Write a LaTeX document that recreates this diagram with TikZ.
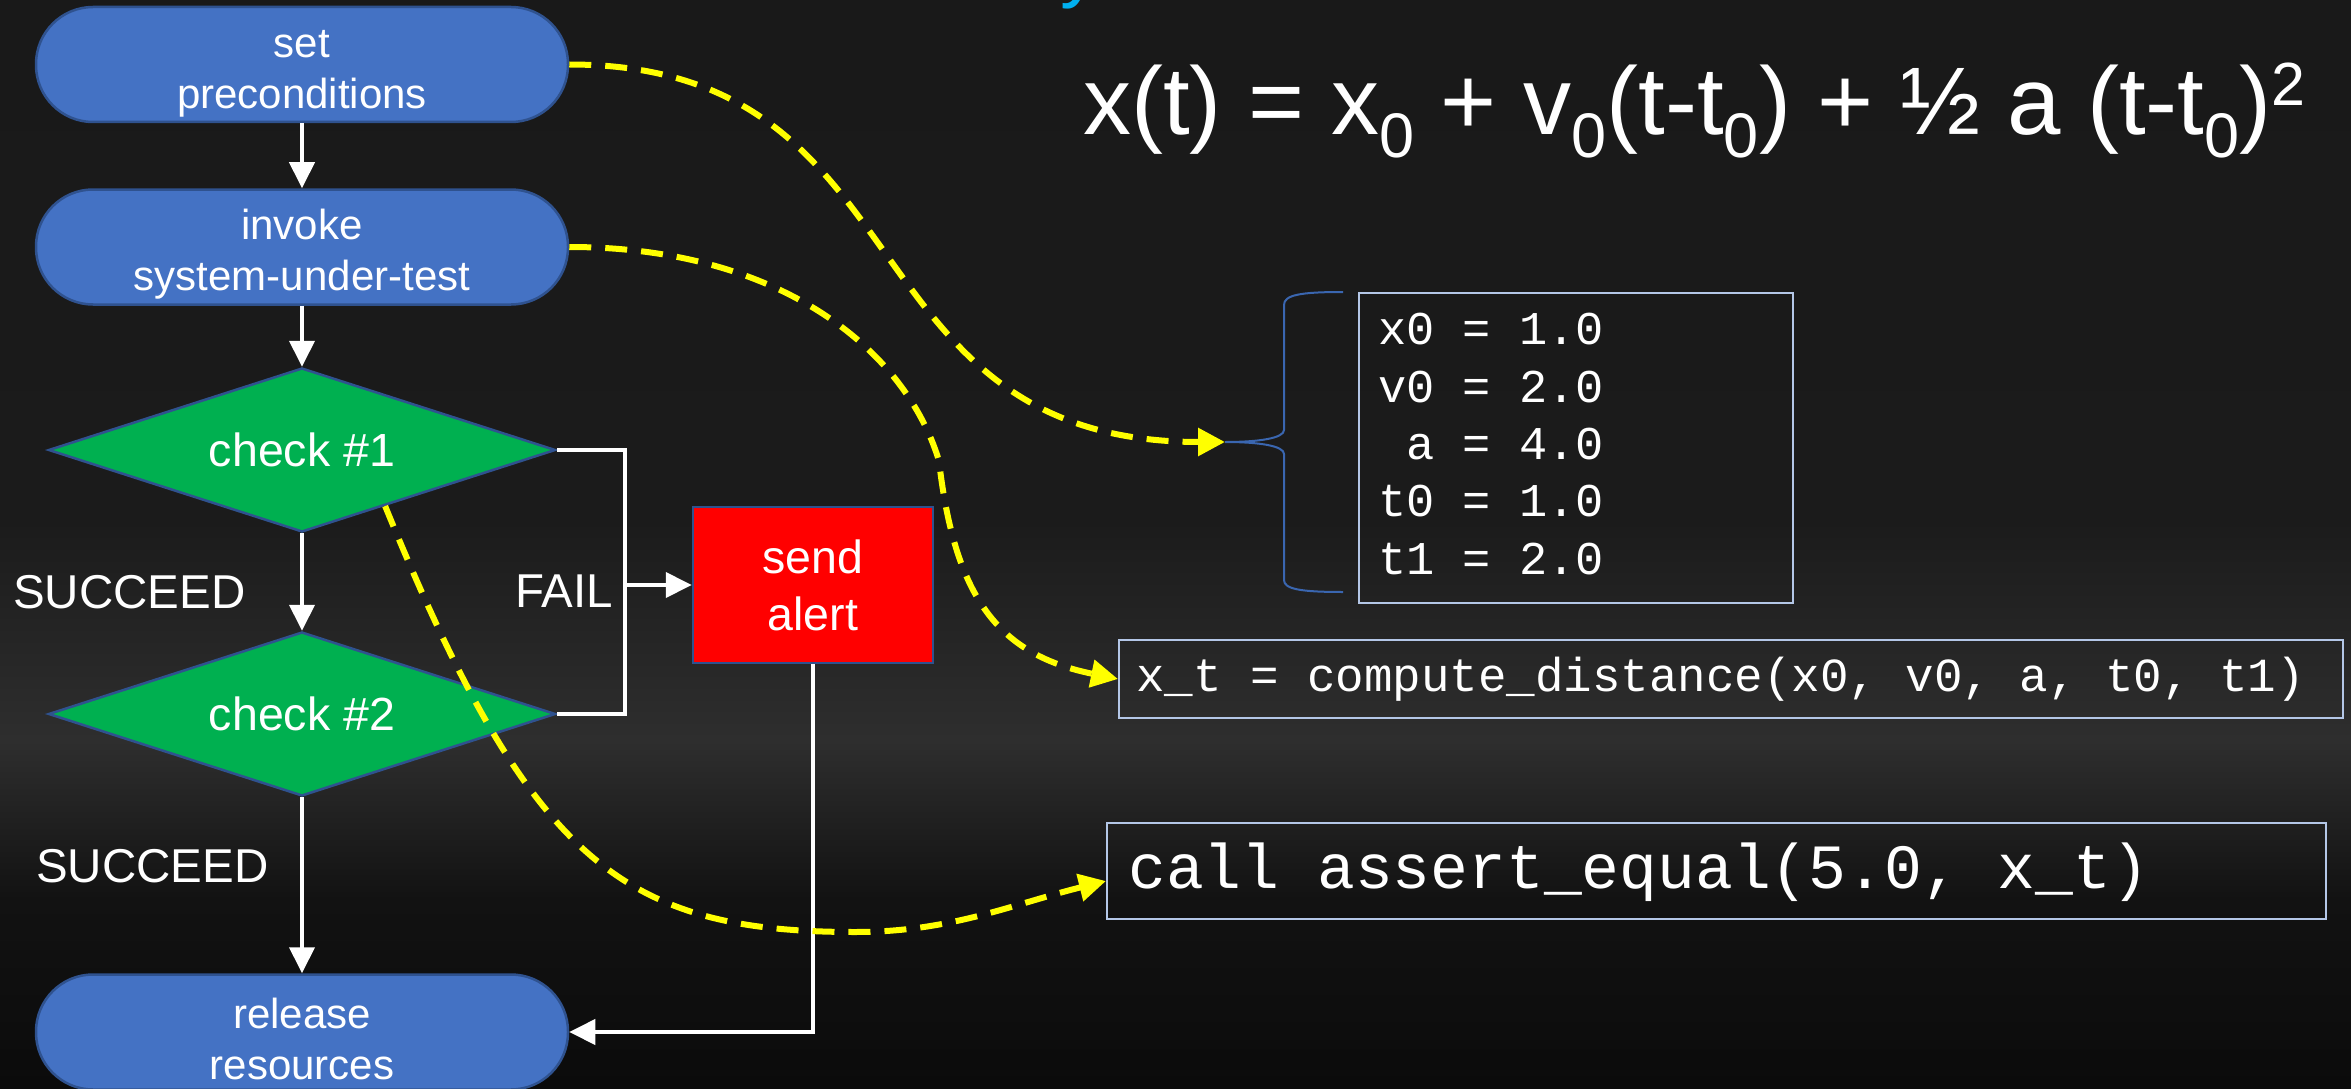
\documentclass[tikz,border=0pt]{standalone}
\usepackage{fontspec}
\setmainfont{Liberation Sans}
\newfontfamily\monof{Liberation Mono}
\usetikzlibrary{arrows.meta,shapes.geometric,calc}
\definecolor{bgA}{HTML}{191919}
\definecolor{bgB}{HTML}{1B1B1B}
\definecolor{bgC}{HTML}{2E2E2E}
\definecolor{bgD}{HTML}{121212}
\definecolor{bgE}{HTML}{0B0B0B}
\definecolor{nodeblue}{HTML}{4472C4}
\definecolor{edgeblue}{HTML}{2F528F}
\definecolor{nodegreen}{HTML}{00B050}
\definecolor{alertred}{HTML}{FF0000}
\definecolor{codeedge}{HTML}{B4C7E7}
\definecolor{bracecol}{HTML}{3A66B0}
\definecolor{titleblue}{HTML}{00B0F0}
\definecolor{yel}{HTML}{FFFF00}
\pgfdeclareverticalshading{bgshade}{100bp}{color(0bp)=(bgE); color(25bp)=(bgE); color(33.7bp)=(bgD); color(41bp)=(bgC); color(51.1bp)=(bgB); color(75bp)=(bgA); color(100bp)=(bgA)}
\newcommand\sbz{\raisebox{-23pt}{\fontsize{63}{63}\selectfont 0}}
\newcommand\spt{\raisebox{29pt}{\fontsize{61}{61}\selectfont 2}}
\newcommand\tb{\rule{0pt}{45pt}}
\tikzset{
  term/.style={rectangle, rounded corners=57pt, minimum width=532pt, minimum height=115pt,
    fill=nodeblue, draw=edgeblue, line width=2.5pt, text=white, align=center,
    font=\fontsize{42}{51}\selectfont, inner sep=0pt},
  decision/.style={diamond, aspect=3.09, minimum width=507pt, minimum height=164pt, inner sep=0pt,
    fill=nodegreen, draw=edgeblue, line width=2.5pt, text=white,
    font=\fontsize{46.5}{56}\selectfont},
  alertbox/.style={rectangle, minimum width=240pt, minimum height=156pt, inner sep=0pt,
    fill=alertred, draw=edgeblue, line width=2.5pt, text=white, align=center,
    font=\fontsize{46.5}{57}\selectfont},
  lbl/.style={text=white, inner sep=0pt, anchor=base west, font=\fontsize{47.5}{56}\selectfont},
  codebox/.style={rectangle, draw=codeedge, line width=2pt, inner sep=0pt, anchor=north west},
  codetext/.style={text=white, inner sep=0pt, anchor=base west, align=left},
  wline/.style={draw=white, line width=4pt},
  warrow/.style={draw=white, line width=4pt, -{Triangle[length=26pt,width=25pt]}},
  yarrow/.style={draw=yel, line width=6pt, dash pattern=on 22pt off 14pt,
    -{Triangle[length=27pt,width=27pt]}},
}
\begin{document}
\begin{tikzpicture}[x=1pt,y=-1pt]
\useasboundingbox (0,0) rectangle (2351,1089);
\fill[shading=bgshade] (0,0) rectangle (2351,1089);

% partially visible title glyph
\node[anchor=base west, inner sep=0pt, text=titleblue, font=\fontsize{80}{80}\selectfont] (ttl) at (1060,-7) {y};

% flowchart
\node[term] (pre) at (302,64.5) {\tb set\\preconditions};
\node[term] (inv) at (302,247) {\tb invoke\\system-under-test};
\node[decision] (c1) at (302,450) {check \#1};
\node[decision] (c2) at (302,714) {check \#2};
\node[term] (rel) at (302,1032) {\tb release\\resources};
\node[alertbox] (alert) at (813,585) {send\\alert};
\coordinate (fj) at (625,585);

\node[lbl] (s1) at (13,608) {SUCCEED};
\node[lbl] (s2) at (36,882) {SUCCEED};
\node[lbl] (fl) at (515,607) {FAIL};

\draw[warrow] (pre.south) -- (inv.north);
\draw[warrow] (inv.south) -- (c1.north);
\draw[warrow] (c1.south) -- (c2.north);
\draw[warrow] (c2.south) -- (rel.north);
\draw[wline] (c1.east) -| (fj) |- (c2.east);
\draw[warrow] (fj) -- (alert.west);
\draw[warrow] (alert.south) |- (rel.east);

% formula
\node[anchor=base west, inner sep=0pt, text=white, font=\fontsize{96}{96}\selectfont] (eq) at (1083,135)
  {x(t) = x\sbz{} + v\sbz(t-t\sbz) + ½ a (t-t\sbz)\spt};

% code boxes
\node[codebox, minimum width=434pt, minimum height=310pt] (vars) at (1358,292) {};
\node[codetext, font=\monof\fontsize{47}{57.3}\selectfont] (varst) at (1378,574)
  {x0 = 1.0\\v0 = 2.0\\\hphantom{x}a = 4.0\\t0 = 1.0\\t1 = 2.0};
\node[codebox, minimum width=1224pt, minimum height=78pt] (comp) at (1118,639) {};
\node[codetext, font=\monof\fontsize{47.5}{57}\selectfont] (compt) at (1136,691)
  {x\_t = compute\_distance(x0, v0, a, t0, t1)};
\node[codebox, minimum width=1219pt, minimum height=96pt] (assert) at (1106,822) {};
\node[codetext, font=\monof\fontsize{63}{70}\selectfont] (assertt) at (1128,888)
  {call assert\_equal(5.0, x\_t)};

% brace
\coordinate (btip) at (1225,442);
\draw[bracecol, line width=2pt] (1343,292) .. controls (1300,292) and (1284,295) .. (1284,305)
  -- (1284,430) .. controls (1284,438) and (1260,442) .. (btip)
  .. controls (1260,442) and (1284,446) .. (1284,454)
  -- (1284,580) .. controls (1284,589) and (1300,592) .. (1343,592);

% yellow dashed connectors
\draw[yarrow] (pre.east) .. controls +(362,0) and +(-385,0) .. (btip);
\draw[yarrow] (inv.east) .. controls +(212,0) and (906,351) .. (939,461)
  .. controls (955,600) and (1000,655) .. (comp.west);
\draw[yarrow] (c1.-34) .. controls (530,860) and (620,932) .. (855,932)
  .. controls (950,932) and (1010,905) .. ([yshift=-10pt]assert.west);
\end{tikzpicture}
\end{document}
